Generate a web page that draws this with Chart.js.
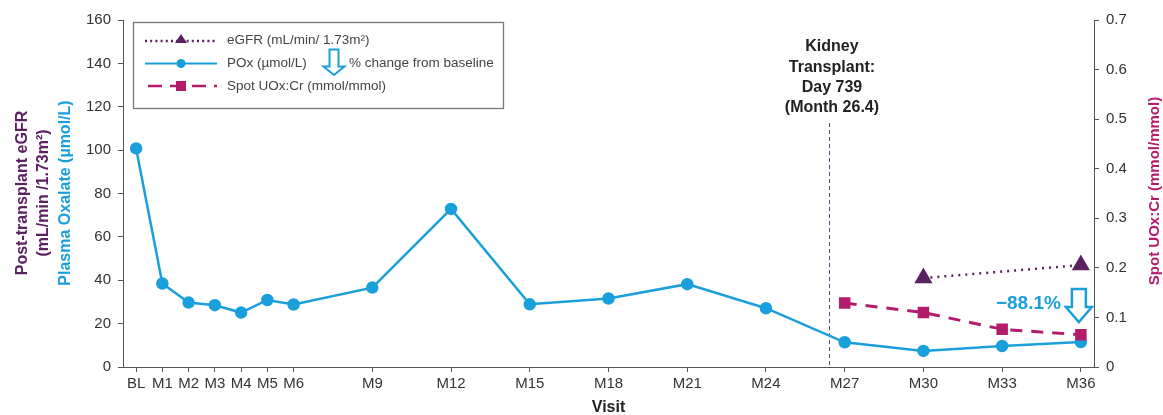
<!DOCTYPE html>
<html>
<head>
<meta charset="utf-8">
<script src="https://cdn.jsdelivr.net/npm/chart.js@4.4.1/dist/chart.umd.min.js"></script>
<style>
  html, body { margin: 0; padding: 0; background: #fff; }
  #wrap { width: 1163px; height: 415px; position: relative; }
</style>
</head>
<body>
<div id="wrap"><canvas id="c" width="1163" height="415"></canvas></div>
<script>
// ---- data ----
const visitLabels = ['BL','M1','M2','M3','M4','M5','M6','M9','M12','M15','M18','M21','M24','M27','M30','M33','M36'];
const visitMonths = [0,1,2,3,4,5,6,9,12,15,18,21,24,27,30,33,36];
const poxValues = [100.8,38.5,29.7,28.5,25.1,30.9,28.8,36.6,72.9,28.9,31.6,38.2,27.1,11.4,7.4,9.7,11.5];
const egfrMonths = [30,36];
const egfrValues = [41,47];
const uoxMonths = [27,30,33,36];
const uoxValues = [0.129,0.110,0.076,0.065];
const transplantMonth = 26.4;
const changeLabel = '\u221288.1%';
const annotationLines = ['Kidney','Transplant:','Day 739','(Month 26.4)'];

const CYAN = '#1b9fdb';
const MAGENTA = '#b31b6c';
const PURPLE = '#5b2160';
const TEXT = '#333333';
const FONT = '"Liberation Sans", Arial, Helvetica, sans-serif';

function pts(xs, ys) { return xs.map((x, i) => ({ x: x, y: ys[i] })); }

function hollowDownArrow(ctx, cx, top, bottom, shaftW, headW, headTop, lw) {
  ctx.save();
  ctx.beginPath();
  ctx.moveTo(cx - shaftW / 2, top);
  ctx.lineTo(cx + shaftW / 2, top);
  ctx.lineTo(cx + shaftW / 2, headTop);
  ctx.lineTo(cx + headW / 2, headTop);
  ctx.lineTo(cx, bottom);
  ctx.lineTo(cx - headW / 2, headTop);
  ctx.lineTo(cx - shaftW / 2, headTop);
  ctx.closePath();
  ctx.fillStyle = '#fff';
  ctx.fill();
  ctx.strokeStyle = CYAN;
  ctx.lineWidth = lw;
  ctx.lineJoin = 'miter';
  ctx.stroke();
  ctx.restore();
}

const overlay = {
  id: 'overlay',
  beforeDatasetsDraw(chart) {
    const ctx = chart.ctx;
    const xs = chart.scales.x;
    const area = chart.chartArea;
    const tx = Math.round(xs.getPixelForValue(transplantMonth)) + 0.5;
    ctx.save();
    ctx.strokeStyle = '#3d5a80';
    ctx.lineWidth = 1;
    ctx.setLineDash([4, 3]);
    ctx.beginPath();
    ctx.moveTo(tx, 123);
    ctx.lineTo(tx, area.bottom);
    ctx.stroke();
    ctx.restore();
  },
  afterDraw(chart) {
    const ctx = chart.ctx;
    const xs = chart.scales.x;
    const area = chart.chartArea;
    ctx.save();

    // transplant annotation text
    const ax = xs.getPixelForValue(transplantMonth) + 3;
    ctx.fillStyle = '#222';
    ctx.font = 'bold 16px ' + FONT;
    ctx.textAlign = 'center';
    ctx.textBaseline = 'middle';
    annotationLines.forEach((t, i) => ctx.fillText(t, ax, 47 + i * 20.3));

    // -88.1% label and arrow
    const endX = xs.getPixelForValue(visitMonths[visitMonths.length - 1]);
    ctx.fillStyle = CYAN;
    ctx.font = 'bold 19px ' + FONT;
    ctx.textAlign = 'right';
    ctx.fillText(changeLabel, endX - 20, 304);
    hollowDownArrow(ctx, endX - 2, 289, 322, 14, 26, 307, 2.5);

    // left axis titles
    ctx.font = 'bold 16px ' + FONT;
    ctx.textAlign = 'center';
    ctx.textBaseline = 'middle';
    const lt = [
      { t: 'Post-transplant eGFR', x: 23, c: PURPLE },
      { t: '(mL/min /1.73m\u00B2)', x: 44, c: PURPLE },
      { t: 'Plasma Oxalate (\u00B5mol/L)', x: 66, c: CYAN }
    ];
    lt.forEach(o => {
      ctx.save();
      ctx.translate(o.x, 193);
      ctx.rotate(-Math.PI / 2);
      ctx.fillStyle = o.c;
      ctx.fillText(o.t, 0, 0);
      ctx.restore();
    });

    // right axis title
    ctx.save();
    ctx.translate(1155, 191);
    ctx.rotate(-Math.PI / 2);
    ctx.fillStyle = MAGENTA;
    ctx.font = 'bold 15px ' + FONT;
    ctx.fillText('Spot UOx:Cr (mmol/mmol)', 0, 0);
    ctx.restore();

    // x axis title
    ctx.fillStyle = '#222';
    ctx.font = 'bold 16px ' + FONT;
    ctx.textAlign = 'center';
    ctx.fillText('Visit', (area.left + area.right) / 2, 408);

    // legend box
    ctx.strokeStyle = '#777';
    ctx.lineWidth = 1.3;
    ctx.strokeRect(133.5, 22.5, 370, 86);

    const lx0 = 145, lx1 = 217, mx = 181;
    // eGFR row
    ctx.save();
    ctx.strokeStyle = PURPLE;
    ctx.lineWidth = 2.5;
    ctx.setLineDash([2, 3.2]);
    ctx.beginPath(); ctx.moveTo(lx0, 41); ctx.lineTo(lx1, 41); ctx.stroke();
    ctx.setLineDash([]);
    ctx.fillStyle = PURPLE;
    ctx.beginPath(); ctx.moveTo(mx, 34); ctx.lineTo(mx + 6, 43); ctx.lineTo(mx - 6, 43); ctx.closePath(); ctx.fill();
    // POx row
    ctx.strokeStyle = CYAN;
    ctx.lineWidth = 2;
    ctx.beginPath(); ctx.moveTo(lx0, 63.5); ctx.lineTo(lx1, 63.5); ctx.stroke();
    ctx.fillStyle = CYAN;
    ctx.beginPath(); ctx.arc(mx, 63.5, 4.5, 0, Math.PI * 2); ctx.fill();
    // UOx row
    ctx.strokeStyle = MAGENTA;
    ctx.lineWidth = 2.5;
    ctx.setLineDash([14, 8]);
    ctx.beginPath(); ctx.moveTo(lx0 + 3, 86); ctx.lineTo(lx1, 86); ctx.stroke();
    ctx.setLineDash([]);
    ctx.fillStyle = MAGENTA;
    ctx.fillRect(mx - 5, 81, 10, 10);
    ctx.restore();

    ctx.fillStyle = '#444';
    ctx.font = '13.5px ' + FONT;
    ctx.textAlign = 'left';
    ctx.textBaseline = 'middle';
    ctx.fillText('eGFR (mL/min/ 1.73m\u00B2)', 227, 40);
    ctx.fillText('POx (\u00B5mol/L)', 227, 63);
    ctx.fillText('% change from baseline', 349, 63);
    ctx.fillText('Spot UOx:Cr (mmol/mmol)', 227, 86);
    hollowDownArrow(ctx, 334, 49.5, 75, 9, 21, 66.5, 2);

    ctx.restore();
  }
};

const tickFont = { family: FONT, size: 15 };

new Chart(document.getElementById('c'), {
  type: 'line',
  data: {
    datasets: [
      {
        label: 'POx (\u00B5mol/L)',
        data: pts(visitMonths, poxValues),
        yAxisID: 'y',
        borderColor: CYAN,
        backgroundColor: CYAN,
        borderWidth: 2.5,
        pointRadius: 5,
        pointHoverRadius: 5,
        pointStyle: 'circle',
        tension: 0,
        order: 3
      },
      {
        label: 'Spot UOx:Cr (mmol/mmol)',
        data: pts(uoxMonths, uoxValues),
        yAxisID: 'y2',
        borderColor: MAGENTA,
        backgroundColor: MAGENTA,
        borderWidth: 3,
        borderDash: [12, 9],
        pointRadius: 6,
        pointHoverRadius: 6,
        pointStyle: 'rect',
        tension: 0,
        order: 2
      },
      {
        label: 'eGFR (mL/min/ 1.73m\u00B2)',
        data: pts(egfrMonths, egfrValues),
        yAxisID: 'y',
        borderColor: PURPLE,
        backgroundColor: PURPLE,
        borderWidth: 2.5,
        borderDash: [2, 5],
        pointRadius: 8,
        pointHoverRadius: 8,
        pointStyle: 'triangle',
        tension: 0,
        order: 1
      }
    ]
  },
  options: {
    responsive: false,
    animation: false,
    layout: { padding: { top: 20, left: 0, right: 0, bottom: 0 } },
    plugins: {
      legend: { display: false },
      tooltip: { enabled: false },
      title: { display: false }
    },
    scales: {
      x: {
        type: 'linear',
        min: -0.5,
        max: 36.5,
        afterBuildTicks(scale) { scale.ticks = visitMonths.map(v => ({ value: v })); },
        afterFit(scale) { scale.height = 48; },
        ticks: {
          autoSkip: false,
          maxRotation: 0,
          color: TEXT,
          font: tickFont,
          padding: 3,
          callback(v) { const i = visitMonths.indexOf(v); return i >= 0 ? visitLabels[i] : ''; }
        },
        grid: { drawOnChartArea: false, color: '#555', tickLength: 5 },
        border: { color: '#555', width: 1 }
      },
      y: {
        position: 'left',
        min: 0,
        max: 160,
        afterFit(scale) { scale.width = 123; },
        ticks: { stepSize: 20, color: TEXT, font: tickFont, padding: 7 },
        grid: { drawOnChartArea: false, color: '#555', tickLength: 5 },
        border: { color: '#555', width: 1 }
      },
      y2: {
        position: 'right',
        min: 0,
        max: 0.7,
        afterFit(scale) { scale.width = 69; },
        ticks: {
          stepSize: 0.1,
          color: TEXT,
          font: tickFont,
          padding: 7,
          callback(v) { return v === 0 ? '0' : Number(v).toFixed(1); }
        },
        grid: { drawOnChartArea: false, color: '#555', tickLength: 5 },
        border: { color: '#555', width: 1 }
      }
    }
  },
  plugins: [overlay]
});
</script>
</body>
</html>
